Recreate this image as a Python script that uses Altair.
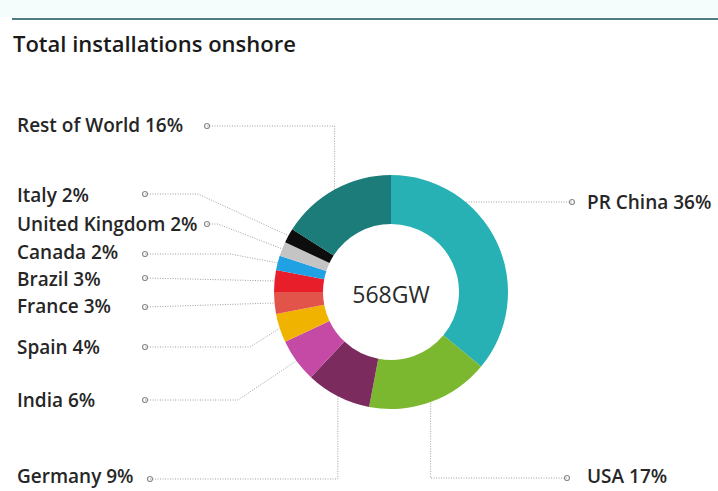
import math
import altair as alt
import pandas as pd

# ---- data ----
countries = ["PR China", "USA", "Germany", "India", "Spain", "France", "Brazil",
             "Canada", "United Kingdom", "Italy", "Rest of World"]
shares = [36, 17, 9, 6, 4, 3, 3, 2, 2, 2, 16]
colors = ["#27b1b4", "#7cb82f", "#7b2b5e", "#c54aa6", "#f0b400", "#e25349",
          "#e81f2a", "#1fa1e4", "#c4c4c4", "#0d0d0d", "#1b7c7a"]
total_label = "568GW"
title_text = "Total installations onshore"

# ---- layout (pixel positions of labels / leader lines) ----
W, H = 718, 491
CX, CY, R_OUT, R_IN = 391, 292, 117, 68
label_x = [587, 587, 17, 17, 17, 17, 17, 17, 17, 17, 17]
label_y = [203, 477, 477, 401, 348, 307, 280, 253, 225, 196, 126]
dot_x = [572, 567, 150, 145, 145, 145, 145, 145, 207, 145, 207]
dot_y = [202, 478, 479, 400, 347, 307, 278, 254, 224, 194, 126]
# elbow: "h" = straight to the ring edge, "v" = vertical drop at anchor x, number = elbow x
elbow = ["h", "v", "v", 238, 250, None, None, 230, 218, 198, "v"]

# ---- build tables ----
arc_df = pd.DataFrame({"country": countries, "share": shares, "idx": list(range(len(countries)))})

total = sum(shares)
cum = 0
line_rows, dot_rows, text_rows = [], [], []
for i, (c, s) in enumerate(zip(countries, shares)):
    mid = (cum + s / 2) / total * 2 * math.pi
    cum += s
    ax = CX + R_OUT * math.sin(mid)
    ay = CY - R_OUT * math.cos(mid)
    pts = [(dot_x[i], dot_y[i])]
    e = elbow[i]
    if e == "h":
        dy = CY - dot_y[i]
        ex = CX + math.sqrt(R_OUT ** 2 - dy ** 2) * (1 if dot_x[i] > CX else -1)
        pts.append((ex, dot_y[i]))
    elif e == "v":
        pts.append((ax, dot_y[i]))
        pts.append((ax, ay))
    elif e is None:
        pts.append((ax, ay))
    else:
        pts.append((e, dot_y[i]))
        pts.append((ax, ay))
    for k, (px, py) in enumerate(pts):
        line_rows.append({"country": c, "seq": k, "px": px, "py": py})
    dot_rows.append({"country": c, "px": dot_x[i], "py": dot_y[i]})
    text_rows.append({"label": f"{c} {s}%", "px": label_x[i], "py": label_y[i]})

line_df = pd.DataFrame(line_rows)
dot_df = pd.DataFrame(dot_rows)
text_df = pd.DataFrame(text_rows)

xs = alt.Scale(domain=[0, W], range=[0, W])
ys = alt.Scale(domain=[0, H], range=[0, H])
X = lambda: alt.X("px:Q", scale=xs, axis=None)
Y = lambda: alt.Y("py:Q", scale=ys, axis=None)

FONT = "Open Sans"

band = alt.Chart(pd.DataFrame({"a": [0]})).mark_rect(color="#f4fcfc").encode(
    x=alt.value(0), x2=alt.value(W), y=alt.value(0), y2=alt.value(17))
topline = alt.Chart(pd.DataFrame({"a": [0]})).mark_rule(color="#4d7d84", strokeWidth=2).encode(
    x=alt.value(12), x2=alt.value(W), y=alt.value(19))
title = alt.Chart(pd.DataFrame({"t": [title_text]})).mark_text(
    align="left", baseline="middle", fontSize=22, font=FONT, fontWeight=600, color="#1a1a1a"
).encode(x=alt.value(13), y=alt.value(45), text="t:N")

arcs = alt.Chart(arc_df).mark_arc(radius=R_OUT, radius2=R_IN).encode(
    theta=alt.Theta("share:Q", stack=True),
    order=alt.Order("idx:Q"),
    color=alt.Color("country:N", scale=alt.Scale(domain=countries, range=colors), legend=None),
    x=alt.value(CX), y=alt.value(CY),
)
center = alt.Chart(pd.DataFrame({"t": [total_label]})).mark_text(
    align="center", baseline="middle", fontSize=23, font=FONT, fontWeight=500, color="#2a2a2a"
).encode(x=alt.value(CX), y=alt.value(CY + 4), text="t:N")

lines = alt.Chart(line_df).mark_line(color="#a0a0a0", strokeWidth=1, strokeDash=[1, 1.5]).encode(
    x=X(), y=Y(), detail="country:N", order="seq:Q")
dots = alt.Chart(dot_df).mark_point(shape="circle", filled=False, size=25, color="#8a8a8a",
                                    strokeWidth=1.2, opacity=1).encode(x=X(), y=Y())
texts = alt.Chart(text_df).mark_text(align="left", baseline="middle", fontSize=19, font=FONT,
                                     fontWeight=600, color="#262626").encode(
    x=X(), y=Y(), text="label:N")

chart = alt.layer(band, topline, title, lines, arcs, center, dots, texts).properties(
    width=W, height=H, padding=0, autosize=alt.AutoSizeParams(type="none")
).configure_view(stroke=None)

chart.save("out.html", embed_options={"renderer": "svg", "actions": False})
